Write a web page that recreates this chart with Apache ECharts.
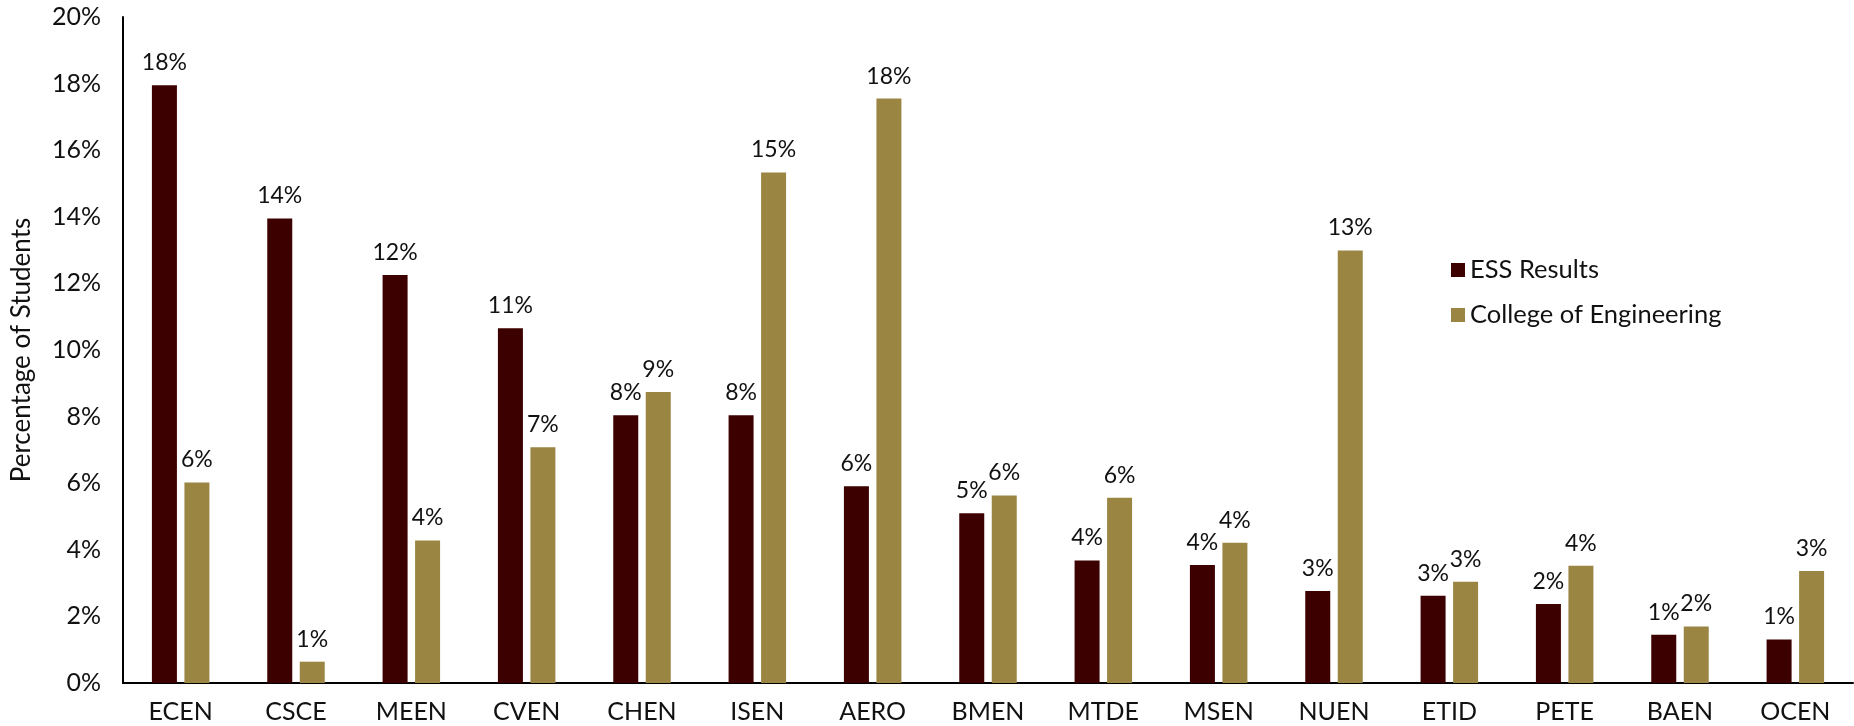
<!DOCTYPE html>
<html>
<head>
    <meta http-equiv="Content-Type" content="text/html; charset=utf-8" />
    <style type="text/css">
        body, html, #chart {width: 100%; height: 100%; overflow: hidden; margin: 0; background: #fff;}
    </style>
    <title>ESS Results vs College of Engineering</title>
</head>
<body>
<div id="chart"></div>
<script src="https://cdn.jsdelivr.net/npm/echarts@6/dist/echarts.min.js"></script>
<script type="text/javascript">
    var majors = ['ECEN', 'CSCE', 'MEEN', 'CVEN', 'CHEN', 'ISEN', 'AERO', 'BMEN', 'MTDE', 'MSEN', 'NUEN', 'ETID', 'PETE', 'BAEN', 'OCEN'];
    var essResults = [17.95, 13.95, 12.25, 10.65, 8.04, 8.04, 5.91, 5.10, 3.68, 3.54, 2.76, 2.62, 2.37, 1.45, 1.31];
    var collegeEng = [6.02, 0.64, 4.28, 7.08, 8.74, 15.33, 17.55, 5.63, 5.56, 4.21, 12.99, 3.04, 3.52, 1.70, 3.36];

    var font = 'Lato';
    var labelOpt = {
        show: true,
        position: 'top',
        distance: 11,
        fontFamily: font,
        fontSize: 23,
        color: '#111',
        formatter: function (p) { return Math.round(p.value) + '%'; }
    };

    var myChart = echarts.init(document.getElementById('chart'));
    myChart.setOption({
        animation: false,
        textStyle: {fontFamily: font},
        grid: {left: 123, right: 1, top: 17, bottom: 43},
        legend: {
            orient: 'vertical',
            left: 1446,
            top: 252,
            itemWidth: 14,
            itemHeight: 14,
            itemGap: 19,
            icon: 'rect',
            textStyle: {fontFamily: font, fontSize: 25.5, color: '#111'},
            data: ['ESS Results', 'College of Engineering']
        },
        xAxis: {
            type: 'category',
            data: majors,
            axisLine: {lineStyle: {color: '#000', width: 2}},
            axisTick: {show: false},
            axisLabel: {fontFamily: font, fontSize: 25, color: '#111', margin: 16}
        },
        yAxis: {
            type: 'value',
            min: 0,
            max: 20,
            interval: 2,
            name: 'Percentage of Students',
            nameLocation: 'middle',
            nameGap: 88,
            nameTextStyle: {fontFamily: font, fontSize: 26, color: '#111'},
            axisLine: {show: true, lineStyle: {color: '#000', width: 2}},
            axisTick: {show: false},
            splitLine: {show: false},
            axisLabel: {
                fontFamily: font, fontSize: 25, color: '#111', margin: 22,
                formatter: function (v) { return v + '%'; }
            }
        },
        series: [{
            name: 'ESS Results',
            type: 'bar',
            data: essResults,
            barWidth: 25,
            barGap: '30%',
            itemStyle: {color: '#3D0000'},
            label: labelOpt
        }, {
            name: 'College of Engineering',
            type: 'bar',
            data: collegeEng,
            barWidth: 25,
            barGap: '30%',
            itemStyle: {color: '#9A8543'},
            label: labelOpt
        }]
    });
</script>
</body>
</html>
